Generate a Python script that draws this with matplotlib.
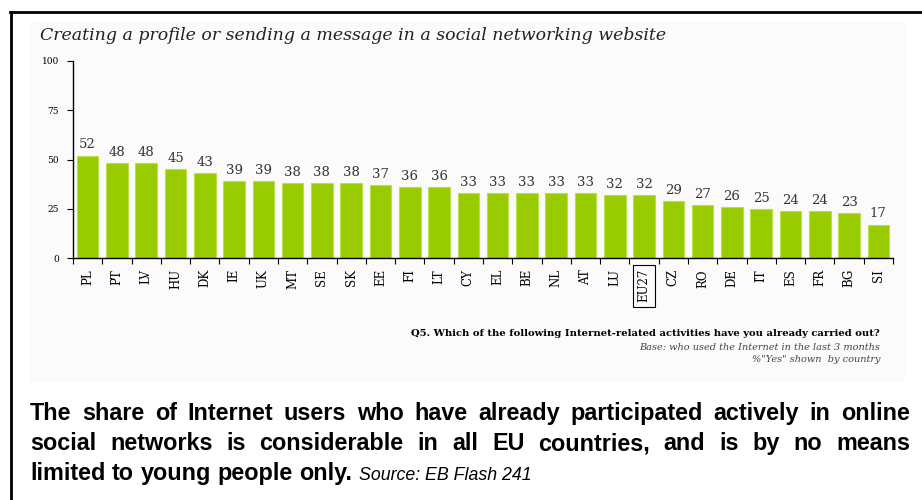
import matplotlib.pyplot as plt
from matplotlib.lines import Line2D
from matplotlib.patches import Rectangle
import numpy as np

# ---------- data ----------
countries = ['PL', 'PT', 'LV', 'HU', 'DK', 'IE', 'UK', 'MT', 'SE', 'SK', 'EE', 'FI', 'LT', 'CY',
             'EL', 'BE', 'NL', 'AT', 'LU', 'EU27', 'CZ', 'RO', 'DE', 'IT', 'ES', 'FR', 'BG', 'SI']
values = [52, 48, 48, 45, 43, 39, 39, 38, 38, 38, 37, 36, 36, 33,
          33, 33, 33, 33, 32, 32, 29, 27, 26, 25, 24, 24, 23, 17]
yticks = [0, 25, 50, 75, 100]

title = 'Creating a profile or sending a message in a social networking website'
question = 'Q5. Which of the following Internet-related activities have you already carried out?'
base_note = 'Base: who used the Internet in the last 3 months'
shown_note = '%"Yes" shown  by country'
summary_lines = [
    'The share of Internet users who have already participated actively in online',
    'social networks is considerable in all EU countries, and is by no means',
    'limited to young people only.',
]
source = 'Source: EB Flash 241'

W, H = 922, 500
BAR = '#99cc00'
SERIF = 'DejaVu Serif'
SANS = 'Liberation Sans'
BODY_SIZE = 16.8

fig = plt.figure(figsize=(W / 100, H / 100), dpi=100)
fig.patch.set_facecolor('white')

def fx(px):
    return px / W

def fy(py):
    return 1 - py / H

# light panel behind the chart
fig.patches.append(Rectangle((fx(30), fy(382)), fx(905) - fx(30), fy(22) - fy(382),
                             transform=fig.transFigure, facecolor='#fbfbfb',
                             edgecolor='none', zorder=-5))

# outer frame: top and left rule
fig.add_artist(Line2D([fx(10), 1.0], [fy(12), fy(12)], color='black', lw=2,
                      transform=fig.transFigure))
fig.add_artist(Line2D([fx(11), fx(11)], [fy(12), 0.0], color='black', lw=2,
                      transform=fig.transFigure))

# ---------- bars ----------
ax = fig.add_axes([fx(73), fy(258), fx(893) - fx(73), fy(61) - fy(258)])
ax.set_zorder(2)
ax.patch.set_alpha(0)
x = np.arange(len(countries))
ax.bar(x, values, width=0.74, color=BAR, edgecolor='#b8e04a', linewidth=0.8)
for xi, v in zip(x, values):
    ax.annotate(str(v), (xi, v), xytext=(0, 3), textcoords='offset points',
                ha='center', va='bottom', fontsize=9.5, family=SERIF, color='#333333')

ax.set_xlim(-0.5, len(countries) - 0.5)
ax.set_ylim(0, 100)
ax.set_yticks(yticks)
ax.set_yticklabels([str(t) for t in yticks], fontsize=6.5, family=SERIF)
ax.set_xticks(x)
ax.set_xticklabels(countries, rotation=90, fontsize=8.5, family=SERIF, va='top')
ax.set_xticks(np.arange(len(countries) + 1) - 0.5, minor=True)
ax.tick_params(axis='x', which='major', length=0, pad=8)
ax.tick_params(axis='x', which='minor', length=4, width=0.8, direction='out')
ax.tick_params(axis='y', length=4, width=0.8, pad=6)
for s in ['top', 'right']:
    ax.spines[s].set_visible(False)
for s in ['left', 'bottom']:
    ax.spines[s].set_linewidth(1.0)

# box round the EU average
for lab in ax.get_xticklabels():
    if lab.get_text() == 'EU27':
        lab.set_bbox(dict(boxstyle='square,pad=0.35', facecolor='none',
                          edgecolor='black', linewidth=0.8))

# ---------- texts ----------
fig.text(fx(40), fy(36), title, fontsize=12.5, style='italic', family=SERIF,
         color='#222222', va='center', ha='left')
fig.text(fx(880), fy(333), question, fontsize=7.2, weight='bold', family=SERIF,
         ha='right', va='center')
fig.text(fx(880), fy(347), base_note, fontsize=7, style='italic', family=SERIF,
         color='#444444', ha='right', va='center')
fig.text(fx(880), fy(360), shown_note, fontsize=7, style='italic', family=SERIF,
         color='#444444', ha='right', va='center')

# justified summary paragraph
renderer = fig.canvas.get_renderer()
left_px, right_px = 30, 910
baselines = [420, 450, 480]

def place_words(line, y_px, justify):
    words = line.split(' ')
    texts = [fig.text(0, fy(y_px), w, fontsize=BODY_SIZE, weight='bold', family=SANS,
                      va='baseline', ha='left') for w in words]
    widths = [t.get_window_extent(renderer).width for t in texts]
    probe = fig.text(0, 0, 'a a', fontsize=BODY_SIZE, weight='bold', family=SANS)
    sw = probe.get_window_extent(renderer).width
    probe.set_text('aa')
    sw -= probe.get_window_extent(renderer).width
    probe.remove()
    if justify:
        gap = (right_px - left_px - sum(widths)) / (len(words) - 1)
    else:
        gap = sw
    pos = left_px
    for t, w in zip(texts, widths):
        t.set_x(fx(pos))
        pos += w + gap
    return pos - gap

for i, line in enumerate(summary_lines):
    end = place_words(line, baselines[i], justify=(i < len(summary_lines) - 1))

fig.text(fx(end + 7), fy(baselines[-1]), source, fontsize=12.8, style='italic',
         family=SANS, va='baseline', ha='left')

fig.savefig('out.png', dpi=100)
